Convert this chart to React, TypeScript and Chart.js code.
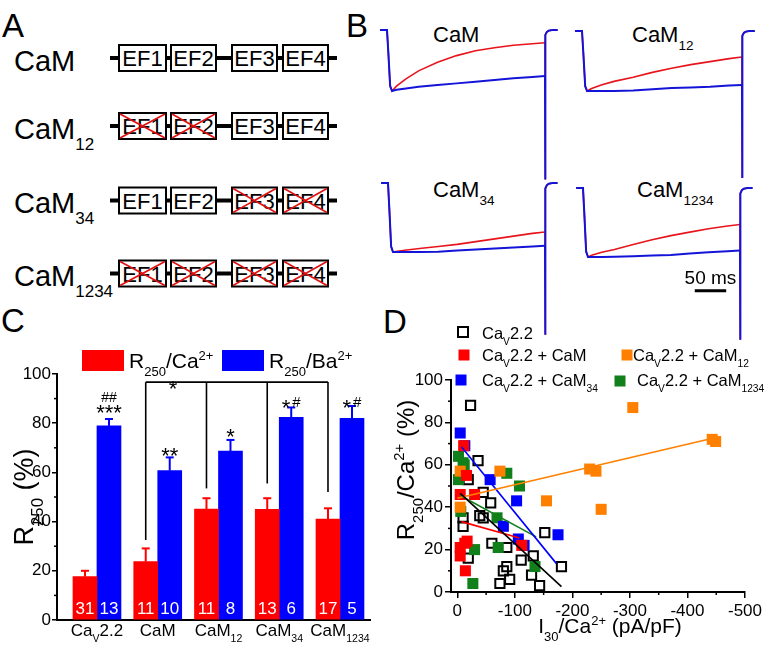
import React, { useEffect, useRef } from 'react';
import { Chart, registerables } from 'chart.js';
Chart.register(...registerables);

const FONT = '"Liberation Sans", Arial, Helvetica, sans-serif';
Chart.defaults.font.family = FONT;
Chart.defaults.color = '#000';

// ---------------- Panel B: current traces (normalised current vs time, ms) ----------------
const TRACE_T = [-11, 0, 2, 5, 8, 15, 30, 50, 80, 110, 140, 170, 200, 230, 250];
const TAIL_T = [250, 250, 251, 253, 256, 262, 270];
const CAM_CA = [0, 0, -0.35, -0.92, -1.0, -0.92, -0.8, -0.67, -0.53, -0.42, -0.34, -0.29, -0.25, -0.225, -0.21];
const CAM_BA = [0, 0, -0.35, -0.92, -1.0, -0.98, -0.96, -0.93, -0.9, -0.875, -0.85, -0.82, -0.79, -0.77, -0.754];
const CAM12_CA = [0, 0, -0.35, -0.92, -1.0, -0.96, -0.9, -0.84, -0.77, -0.69, -0.62, -0.56, -0.51, -0.46, -0.433];
const CAM12_BA = [0, 0, -0.35, -0.92, -1.0, -1.0, -1.0, -1.0, -0.99, -0.97, -0.95, -0.94, -0.93, -0.91, -0.9];
const CAM34_CA = [0, 0, -0.35, -0.92, -1.0, -0.99, -0.97, -0.95, -0.92, -0.89, -0.85, -0.81, -0.77, -0.73, -0.71];
const CAM34_BA = [0, 0, -0.35, -0.92, -1.0, -1.0, -1.0, -1.0, -0.995, -0.98, -0.965, -0.95, -0.935, -0.92, -0.91];
const CAM1234_CA = [0, 0, -0.35, -0.92, -1.0, -0.97, -0.93, -0.89, -0.82, -0.75, -0.69, -0.64, -0.59, -0.55, -0.53];
const CAM1234_BA = [0, 0, -0.35, -0.92, -1.0, -1.0, -1.0, -0.995, -0.99, -0.98, -0.97, -0.95, -0.93, -0.915, -0.907];
// tail current: deep off-scale spike, then return to baseline
const TAIL_TOP = [-2.45, -0.25, -0.08, -0.03, -0.01, 0, 0];
const TAIL_BOTTOM = [-2.2, -0.25, -0.08, -0.03, -0.01, 0, 0];
const SCALEBAR_MS = 50;
const SCALEBAR_T0 = 178;
const SCALEBAR_Y = -1.49;

// ---------------- Panel C: R250 bars ----------------
const C_CATS = [1, 2, 3, 4, 5];
const R_CA = [17.6, 23.7, 45.1, 45.0, 41.0];
const R_CA_ERR = [2.4, 5.4, 4.4, 4.5, 4.4];
const R_BA = [78.9, 60.7, 68.7, 82.4, 82.0];
const R_BA_ERR = [2.8, 5.4, 4.5, 4.0, 5.0];
const N_CA = [31, 11, 11, 13, 17];
const N_BA = [13, 10, 8, 6, 5];
const SIG_STARS = ['***', '**', '*', '*', '*'];
const SIG_HASH_ABOVE = ['##', '', '', '', ''];
const SIG_HASH_SIDE = ['', '', '', '#', '#'];
const SIG_Y = [86.2, 68.7, 76.8, 88.6, 88.6];
const HASH_ABOVE_Y = 90.6;
const BRACKET_Y = 96.7;
const BRACKET_ENDS = [32.5, 53.5, 55.5, 52.0]; // CaM, CaM12, CaM34, CaM1234 (red bars)
const BRACKET_STAR_X = 2.25;
const C_Y_TICKS = [0, 20, 40, 60, 80, 100];
const C_Y_MINOR = [10, 30, 50, 70, 90];

// ---------------- Panel D: scatter ----------------
const CAV22_PTS = [[-23, 88], [-36, 62], [-19, 53], [-45, 47], [-58, 42], [-39, 36], [-45, 35], [-10, 35], [-10, 31], [-60, 23], [-86, 21], [-19, 16], [-111, 15], [-132, 17], [-86, 12], [-80, 10], [-91, 6], [-129, 8], [-74, 4], [-143, 3], [-152, 28], [-181, 12]];
const CAM_PTS = [[-11, 69], [-16, 55], [-5, 46], [-30, 46], [-5, 21], [-13, 23], [-17, 24], [-5, 17], [-14, 10], [-112, 22]];
const CAM12_PTS = [[-305, 87], [-443, 72], [-449, 71], [-230, 58], [-241, 57], [-155, 43], [-250, 39], [-5, 57], [-5, 40], [-74, 57]];
const CAM34_PTS = [[-5, 75], [-13, 69], [-57, 53], [-103, 43], [-80, 31], [-106, 25], [-116, 22], [-175, 27]];
const CAM1234_PTS = [[-2, 64], [-10, 61], [-12, 60], [-2, 53], [-6, 38], [-86, 56], [-108, 50], [-69, 35], [-71, 21], [-30, 20], [-135, 12], [-27, 4]];
const FIT_CAV22 = [[-5, 46.5], [-181, 2.5]];
const FIT_CAM = [[-7, 33.2], [-108, 25.5]];
const FIT_CAM12 = [[0, 44.2], [-444, 72.5]];
const FIT_CAM34 = [[-7, 68.5], [-172, 13.5]];
const FIT_CAM1234 = [[-5, 45.5], [-137, 26]];
const D_X_TICKS = [-500, -400, -300, -200, -100, 0];
const D_X_MINOR = [-450, -350, -250, -150, -50];
const D_Y_TICKS = [0, 20, 40, 60, 80, 100];
const D_Y_MINOR = [10, 30, 50, 70, 90];

const RED = '#ff0000';
const BLUE = '#0000ff';
const ORANGE = '#ff8000';
const GREEN = '#11801a';
const TRACE_RED = '#e8141c';
const TRACE_BLUE = '#1414d8';

// ---------------- rich text helper ----------------
type Seg = [string, number?];
function drawRich(ctx: CanvasRenderingContext2D, segs: Seg[], x: number, y: number, size: number, align: string, color: string) {
  ctx.save();
  ctx.fillStyle = color;
  ctx.textBaseline = 'alphabetic';
  ctx.textAlign = 'left';
  const parts = segs.map(([t, k]) => {
    const fs = k ? size * 0.62 : size;
    ctx.font = `${fs}px ${FONT}`;
    return { t, fs, dy: k === 1 ? size * 0.37 : k === 2 ? -size * 0.4 : 0, w: ctx.measureText(t).width };
  });
  const total = parts.reduce((a, p) => a + p.w, 0);
  let cx = align === 'center' ? x - total / 2 : align === 'right' ? x - total : x;
  for (const p of parts) {
    ctx.font = `${p.fs}px ${FONT}`;
    ctx.fillText(p.t, cx, y + p.dy);
    cx += p.w;
  }
  ctx.restore();
}
function seg(ctx: CanvasRenderingContext2D, x1: number, y1: number, x2: number, y2: number) {
  ctx.beginPath();
  ctx.moveTo(x1, y1);
  ctx.lineTo(x2, y2);
  ctx.stroke();
}

// ---------------- chart canvas ----------------
function ChartCanvas(props: { left: number; top: number; width: number; height: number; make: () => any }) {
  const ref = useRef<HTMLCanvasElement>(null);
  useEffect(() => {
    const chart = new Chart(ref.current as HTMLCanvasElement, props.make());
    return () => chart.destroy();
  }, []);
  return (
    <canvas
      ref={ref}
      width={props.width}
      height={props.height}
      style={{ position: 'absolute', left: props.left, top: props.top, width: props.width, height: props.height }}
    />
  );
}

// ---------------- Panel B configs ----------------
const B_PANELS = [
  { left: 376, top: 14, w: 190, h: 168, t0: 387, ppm: 0.632, base: 30, peak: 91, ca: CAM_CA, ba: CAM_BA, tail: TAIL_TOP, bar: false },
  { left: 570, top: 14, w: 192, h: 168, t0: 582, ppm: 0.64, base: 31, peak: 91, ca: CAM12_CA, ba: CAM12_BA, tail: TAIL_TOP, bar: false },
  { left: 376, top: 170, w: 190, h: 166, t0: 388, ppm: 0.628, base: 183, peak: 252, ca: CAM34_CA, ba: CAM34_BA, tail: TAIL_BOTTOM, bar: false },
  { left: 570, top: 170, w: 192, h: 176, t0: 583, ppm: 0.628, base: 188, peak: 257, ca: CAM1234_CA, ba: CAM1234_BA, tail: TAIL_BOTTOM, bar: true },
];

const scaleBarPlugin = {
  id: 'scalebar',
  afterDraw(chart: any) {
    const { ctx } = chart;
    const x = chart.scales.x;
    const y = chart.scales.y;
    const x1 = x.getPixelForValue(SCALEBAR_T0);
    const x2 = x.getPixelForValue(SCALEBAR_T0 + SCALEBAR_MS);
    const py = y.getPixelForValue(SCALEBAR_Y);
    ctx.save();
    ctx.strokeStyle = '#000';
    ctx.lineWidth = 3;
    seg(ctx, x1, py, x2, py);
    ctx.restore();
    drawRich(ctx, [['50 ms']], (x1 + x2) / 2, py - 7, 19, 'center', '#000');
  },
};

function traceConfig(p: any) {
  const unit = p.peak - p.base;
  const line = (data: any[], color: string, w: number, order: number) => ({
    data, borderColor: color, borderWidth: w, pointRadius: 0, tension: 0, clip: false, order, fill: false, spanGaps: true,
  });
  const body = (vals: number[]) => TRACE_T.map((t, i) => ({ x: t, y: vals[i] }));
  const tail = (endVal: number) => TAIL_T.map((t, i) => ({ x: t, y: i === 1 ? p.tail[0] : i === 0 ? endVal : p.tail[i] }));
  return {
    type: 'line',
    data: {
      datasets: [
        line(body(p.ca), TRACE_RED, 1.6, 3),
        line(tail(p.ca[p.ca.length - 1]), TRACE_RED, 1.6, 3),
        line(body(p.ba), TRACE_BLUE, 2, 1),
        line(tail(p.ba[p.ba.length - 1]), TRACE_BLUE, 2, 1),
      ],
    },
    options: {
      animation: false,
      responsive: false,
      devicePixelRatio: 1,
      events: [],
      layout: { padding: 0 },
      plugins: { legend: { display: false }, tooltip: { enabled: false } },
      scales: {
        x: { type: 'linear', display: false, min: (p.left - p.t0) / p.ppm, max: (p.left + p.w - p.t0) / p.ppm },
        y: { type: 'linear', display: false, min: -(p.top + p.h - p.base) / unit, max: (p.base - p.top) / unit },
      },
    },
    plugins: p.bar ? [scaleBarPlugin] : [],
  };
}

// ---------------- Panel C config ----------------
const C_LABELS: Seg[][] = [
  [['Ca'], ['V', 1], ['2.2']],
  [['CaM']],
  [['CaM'], ['12', 1]],
  [['CaM'], ['34', 1]],
  [['CaM'], ['1234', 1]],
];

const cPlugin = {
  id: 'cdecor',
  afterDraw(chart: any) {
    const { ctx } = chart;
    const xs = chart.scales.x;
    const ys = chart.scales.y;
    const area = chart.chartArea;
    ctx.save();
    ctx.strokeStyle = '#000';
    ctx.lineWidth = 1.5;
    for (const v of C_Y_MINOR) {
      const py = ys.getPixelForValue(v);
      seg(ctx, area.left - 3, py, area.left, py);
    }
    const sets = [
      { vals: R_CA, errs: R_CA_ERR, color: RED },
      { vals: R_BA, errs: R_BA_ERR, color: BLUE },
    ];
    sets.forEach((s, d) => {
      const meta = chart.getDatasetMeta(d);
      ctx.strokeStyle = s.color;
      ctx.lineWidth = 2;
      meta.data.forEach((bar: any, i: number) => {
        const top = ys.getPixelForValue(s.vals[i] + s.errs[i]);
        const b = ys.getPixelForValue(s.vals[i]);
        seg(ctx, bar.x, b, bar.x, top);
        seg(ctx, bar.x - 4, top, bar.x + 4, top);
      });
    });
    ctx.restore();
    const zero = ys.getPixelForValue(0);
    const mRed = chart.getDatasetMeta(0).data;
    const mBlue = chart.getDatasetMeta(1).data;
    mRed.forEach((bar: any, i: number) => drawRich(ctx, [[String(N_CA[i])]], bar.x, zero - 6, 17, 'center', '#fff'));
    mBlue.forEach((bar: any, i: number) => drawRich(ctx, [[String(N_BA[i])]], bar.x, zero - 6, 17, 'center', '#fff'));
    mBlue.forEach((bar: any, i: number) => {
      const cy = ys.getPixelForValue(SIG_Y[i]);
      if (SIG_HASH_SIDE[i]) {
        drawRich(ctx, [[SIG_STARS[i]]], bar.x - 1, cy + 12.5, 22, 'right', '#000');
        drawRich(ctx, [[SIG_HASH_SIDE[i]]], bar.x + 1, cy + 5, 15, 'left', '#000');
      } else {
        drawRich(ctx, [[SIG_STARS[i]]], bar.x, cy + 12.5, 22, 'center', '#000');
      }
      if (SIG_HASH_ABOVE[i]) {
        drawRich(ctx, [[SIG_HASH_ABOVE[i]]], bar.x, ys.getPixelForValue(HASH_ABOVE_Y) + 5, 14, 'center', '#000');
      }
    });
    ctx.save();
    ctx.strokeStyle = '#000';
    ctx.lineWidth = 1.6;
    const by = ys.getPixelForValue(BRACKET_Y);
    const bxs = [1, 2, 3, 4].map((i) => mRed[i].x);
    seg(ctx, bxs[0], by, bxs[3], by);
    bxs.forEach((bx: number, k: number) => seg(ctx, bx, by, bx, ys.getPixelForValue(BRACKET_ENDS[k])));
    ctx.restore();
    drawRich(ctx, [['*']], xs.getPixelForValue(BRACKET_STAR_X), by + 14, 22, 'center', '#000');
    ctx.save();
    ctx.fillStyle = RED;
    ctx.fillRect(82, 50, 42, 21);
    ctx.fillStyle = BLUE;
    ctx.fillRect(222, 50, 42, 21);
    ctx.restore();
    drawRich(ctx, [['R'], ['250', 1], ['/Ca'], ['2+', 2]], 129, 68, 21, 'left', '#000');
    drawRich(ctx, [['R'], ['250', 1], ['/Ba'], ['2+', 2]], 269, 68, 21, 'left', '#000');
    C_CATS.forEach((c, i) => drawRich(ctx, C_LABELS[i], xs.getPixelForValue(c), 336, 17, 'center', '#000'));
    ctx.save();
    ctx.translate(33, (area.top + area.bottom) / 2);
    ctx.rotate(-Math.PI / 2);
    drawRich(ctx, [['R'], ['250', 1], [' (%)']], 0, 0, 27, 'center', '#000');
    ctx.restore();
  },
};

function cConfig() {
  return {
    type: 'bar',
    data: {
      datasets: [
        { data: C_CATS.map((c, i) => ({ x: c, y: R_CA[i] })), backgroundColor: RED, borderWidth: 0, barThickness: 24 },
        { data: C_CATS.map((c, i) => ({ x: c, y: R_BA[i] })), backgroundColor: BLUE, borderWidth: 0, barThickness: 24 },
      ],
    },
    options: {
      animation: false,
      responsive: false,
      devicePixelRatio: 1,
      events: [],
      layout: { padding: { top: 74, right: 10, left: 0, bottom: 0 } },
      plugins: { legend: { display: false }, tooltip: { enabled: false } },
      scales: {
        x: {
          type: 'linear',
          offset: false,
          min: 0.342,
          max: 5.494,
          afterFit: (s: any) => { s.height = 25; },
          grid: { display: true, offset: false, drawOnChartArea: false, drawTicks: false },
          border: { display: true, color: '#000', width: 2 },
          ticks: { display: false },
        },
        y: {
          min: 0,
          max: 100,
          afterFit: (s: any) => { s.width = 57; },
          afterBuildTicks: (s: any) => { s.ticks = C_Y_TICKS.map((v) => ({ value: v })); },
          grid: { drawOnChartArea: false, drawTicks: true, tickLength: 5, color: '#000', lineWidth: 1.5 },
          border: { display: true, color: '#000', width: 2 },
          ticks: { font: { size: 17, family: FONT }, color: '#000', padding: 1, callback: (v: any) => String(v) },
        },
      },
    },
    plugins: [cPlugin],
  };
}

// ---------------- Panel D config ----------------
const dPlugin = {
  id: 'ddecor',
  afterDraw(chart: any) {
    const { ctx } = chart;
    const xs = chart.scales.x;
    const ys = chart.scales.y;
    const area = chart.chartArea;
    ctx.save();
    ctx.strokeStyle = '#000';
    ctx.lineWidth = 1.5;
    for (const v of D_Y_MINOR) {
      const py = ys.getPixelForValue(v);
      seg(ctx, area.left - 3, py, area.left, py);
    }
    for (const v of D_X_MINOR) {
      const px = xs.getPixelForValue(v);
      seg(ctx, px, area.bottom, px, area.bottom + 3);
    }
    ctx.lineWidth = 2;
    ctx.strokeRect(78, 27, 10, 10);
    ctx.fillStyle = RED;
    ctx.fillRect(78.5, 49.5, 11, 11);
    ctx.fillStyle = ORANGE;
    ctx.fillRect(241.5, 49.5, 11, 11);
    ctx.fillStyle = BLUE;
    ctx.fillRect(75.5, 74.5, 11, 11);
    ctx.fillStyle = GREEN;
    ctx.fillRect(234.5, 75.5, 11, 11);
    ctx.restore();
    const L = 16.5;
    drawRich(ctx, [['Ca'], ['V', 1], ['2.2']], 102, 39, L, 'left', '#000');
    drawRich(ctx, [['Ca'], ['V', 1], ['2.2 + CaM']], 102, 61, L, 'left', '#000');
    drawRich(ctx, [['Ca'], ['V', 1], ['2.2 + CaM'], ['12', 1]], 253, 61, L, 'left', '#000');
    drawRich(ctx, [['Ca'], ['V', 1], ['2.2 + CaM'], ['34', 1]], 102, 86, L, 'left', '#000');
    drawRich(ctx, [['Ca'], ['V', 1], ['2.2 + CaM'], ['1234', 1]], 257, 86, L, 'left', '#000');
    ctx.save();
    ctx.translate(34, (area.top + area.bottom) / 2 - 16);
    ctx.rotate(-Math.PI / 2);
    drawRich(ctx, [['R'], ['250', 1], ['/Ca'], ['2+', 2], [' (%)']], 0, 0, 24, 'center', '#000');
    ctx.restore();
    drawRich(ctx, [['I'], ['30', 1], ['/Ca'], ['2+', 2], [' (pA/pF)']], 230, 333, 21, 'center', '#000');
  },
};

function pts(a: number[][]) {
  return a.map((p) => ({ x: p[0], y: p[1] }));
}

function dConfig() {
  const sq = (d: number[][], c: string) => ({ data: pts(d), pointStyle: 'rect', pointRadius: 7.8, backgroundColor: c, borderColor: c, borderWidth: 0, order: 1 });
  const fit = (d: number[][], c: string) => ({ data: pts(d), showLine: true, pointRadius: 0, borderColor: c, borderWidth: 1.6, order: 0 });
  return {
    type: 'scatter',
    data: {
      datasets: [
        { data: pts(CAV22_PTS), pointStyle: 'rect', pointRadius: 6.5, backgroundColor: 'rgba(0,0,0,0)', borderColor: '#000', borderWidth: 2, order: 2 },
        sq(CAM_PTS, RED),
        sq(CAM12_PTS, ORANGE),
        sq(CAM34_PTS, BLUE),
        sq(CAM1234_PTS, GREEN),
        fit(FIT_CAV22, '#000'),
        fit(FIT_CAM, RED),
        fit(FIT_CAM12, ORANGE),
        fit(FIT_CAM34, BLUE),
        fit(FIT_CAM1234, GREEN),
      ],
    },
    options: {
      animation: false,
      responsive: false,
      devicePixelRatio: 1,
      events: [],
      layout: { padding: { top: 80, right: 28, left: 0, bottom: 0 } },
      plugins: { legend: { display: false }, tooltip: { enabled: false } },
      scales: {
        x: {
          type: 'linear',
          min: -500,
          max: 11,
          reverse: true,
          afterFit: (s: any) => { s.height = 53; },
          afterBuildTicks: (s: any) => { s.ticks = D_X_TICKS.map((v) => ({ value: v })); },
          grid: { drawOnChartArea: false, drawTicks: true, tickLength: 6, color: '#000', lineWidth: 1.5 },
          border: { display: true, color: '#000', width: 2 },
          ticks: { font: { size: 17, family: FONT }, color: '#000', padding: 3, maxRotation: 0, autoSkip: false, callback: (v: any) => String(v) },
        },
        y: {
          type: 'linear',
          min: 0,
          max: 100,
          afterFit: (s: any) => { s.width = 71; },
          afterBuildTicks: (s: any) => { s.ticks = D_Y_TICKS.map((v) => ({ value: v })); },
          grid: { drawOnChartArea: false, drawTicks: true, tickLength: 6, color: '#000', lineWidth: 1.5 },
          border: { display: true, color: '#000', width: 2 },
          ticks: { font: { size: 17, family: FONT }, color: '#000', padding: 2, callback: (v: any) => String(v) },
        },
      },
    },
    plugins: [dPlugin],
  };
}

// ---------------- static SVG (panel A, letters, trace titles) ----------------
const A_ROWS = [
  { sub: '', cy: 58, crossed: [false, false, false, false] },
  { sub: '12', cy: 126, crossed: [true, true, false, false] },
  { sub: '34', cy: 200.5, crossed: [false, false, true, true] },
  { sub: '1234', cy: 273.5, crossed: [true, true, true, true] },
];
const BOX_X = [119, 171, 232, 283];
const BOX_W = [47, 45, 45, 45];
const BOX_H = 26;

function StaticLayer() {
  return (
    <svg width={773} height={645} style={{ position: 'absolute', left: 0, top: 0 }} fontFamily={FONT}>
      <text x={2} y={37} fontSize={33}>A</text>
      <text x={346} y={37} fontSize={33}>B</text>
      <text x={1} y={332} fontSize={33}>C</text>
      <text x={383} y={333} fontSize={33}>D</text>
      {A_ROWS.map((r, ri) => (
        <g key={ri}>
          <text x={14} y={r.cy + 12.5} fontSize={29}>
            CaM
            {r.sub ? <tspan dy={11} fontSize={17}>{r.sub}</tspan> : null}
          </text>
          <line x1={110} x2={337} y1={r.cy} y2={r.cy} stroke="#000" strokeWidth={4} />
          {BOX_X.map((bx, bi) => (
            <g key={bi}>
              <rect x={bx} y={r.cy - BOX_H / 2} width={BOX_W[bi]} height={BOX_H} fill="#fff" stroke="#000" strokeWidth={2} />
              <text x={bx + BOX_W[bi] / 2} y={r.cy + 8} fontSize={22} textAnchor="middle">{`EF${bi + 1}`}</text>
              {r.crossed[bi] ? (
                <g stroke="#e01010" strokeWidth={1.6}>
                  <line x1={bx + 1} y1={r.cy - BOX_H / 2 + 1} x2={bx + BOX_W[bi] - 1} y2={r.cy + BOX_H / 2 - 1} />
                  <line x1={bx + 1} y1={r.cy + BOX_H / 2 - 1} x2={bx + BOX_W[bi] - 1} y2={r.cy - BOX_H / 2 + 1} />
                </g>
              ) : null}
            </g>
          ))}
        </g>
      ))}
      <text x={433} y={41.5} fontSize={22}>CaM</text>
      <text x={632} y={41.5} fontSize={22}>CaM<tspan dy={8} fontSize={13.5}>12</tspan></text>
      <text x={433} y={196.5} fontSize={22}>CaM<tspan dy={8} fontSize={13.5}>34</tspan></text>
      <text x={637} y={197} fontSize={22}>CaM<tspan dy={8} fontSize={13.5}>1234</tspan></text>
    </svg>
  );
}

export default function App() {
  return (
    <div style={{ position: 'fixed', left: 0, top: 0, width: 773, height: 645, background: '#fff', overflow: 'hidden' }}>
      <StaticLayer />
      {B_PANELS.map((p, i) => (
        <ChartCanvas key={i} left={p.left} top={p.top} width={p.w} height={p.h} make={() => traceConfig(p)} />
      ))}
      <ChartCanvas left={0} top={300} width={380} height={345} make={cConfig} />
      <ChartCanvas left={380} top={300} width={393} height={345} make={dConfig} />
    </div>
  );
}
